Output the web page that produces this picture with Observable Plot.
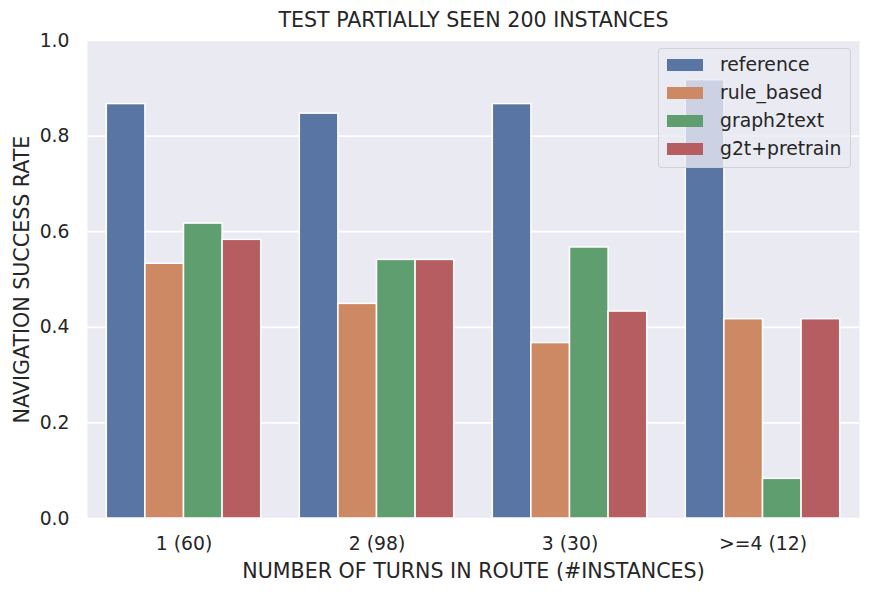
<!DOCTYPE html>
<html>
<head>
<meta charset="utf-8">
<script src="https://cdn.jsdelivr.net/npm/d3@7"></script>
<script src="https://cdn.jsdelivr.net/npm/@observablehq/plot@0.6"></script>
<style>
  html, body { margin: 0; padding: 0; background: #fff; }
  #wrap { position: relative; width: 873px; height: 594px; font-family: "DejaVu Sans", sans-serif; }
  #legend {
    position: absolute; left: 658px; top: 48px; width: 191px; height: 116px;
    background: rgba(234,234,242,0.8); border: 1px solid rgba(204,204,204,0.8);
    border-radius: 4px; box-sizing: content-box; padding-top: 2px;
  }
  .row { display: flex; align-items: center; height: 28px; }
  .sw { width: 36px; height: 12px; margin-left: 8px; margin-right: 17px; }
  .lab { font-size: 18.8px; color: #262626; line-height: 1; }
</style>
</head>
<body>
<div id="wrap"></div>
<script>
const title = "TEST PARTIALLY SEEN 200 INSTANCES";
const xLabel = "NUMBER OF TURNS IN ROUTE (#INSTANCES)";
const yLabel = "NAVIGATION SUCCESS RATE";
const groups = ["1 (60)", "2 (98)", "3 (30)", ">=4 (12)"];
const series = ["reference", "rule_based", "graph2text", "g2t+pretrain"];
const colors = ["#5875A4", "#CC8963", "#5F9E6E", "#B55D60"];
const reference = [0.867, 0.847, 0.867, 0.917];
const ruleBased = [0.533, 0.449, 0.367, 0.417];
const graph2text = [0.617, 0.541, 0.567, 0.083];
const g2tPretrain = [0.583, 0.541, 0.433, 0.417];
const yTicks = [0, 0.2, 0.4, 0.6, 0.8, 1.0];

const seriesValues = [reference, ruleBased, graph2text, g2tPretrain];
const rows = [];
groups.forEach((g, gi) => {
  series.forEach((s, si) => {
    rows.push({group: g, gi, series: s, si, value: seriesValues[si][gi]});
  });
});

const ink = "#262626";
const chart = Plot.plot({
  width: 873,
  height: 594,
  marginTop: 40,
  marginRight: 14,
  marginBottom: 76,
  marginLeft: 87,
  style: {fontFamily: "DejaVu Sans, sans-serif", background: "white", color: ink},
  x: {domain: [-0.5, groups.length - 0.5]},
  y: {domain: [0, 1]},
  color: {domain: series, range: colors},
  marks: [
    Plot.frame({fill: "#EAEAF2", stroke: null}),
    Plot.gridY({ticks: yTicks, stroke: "white", strokeOpacity: 1, strokeWidth: 1.7}),
    Plot.rect(rows, {
      x1: d => d.gi - 0.4 + 0.2 * d.si,
      x2: d => d.gi - 0.2 + 0.2 * d.si,
      y1: 0,
      y2: "value",
      fill: "series",
      stroke: "white",
      strokeWidth: 1.5
    }),
    Plot.axisX({
      ticks: groups.map((g, i) => i),
      tickFormat: i => groups[i],
      tickSize: 0,
      tickPadding: 18,
      fontSize: 18.8,
      color: ink,
      label: null
    }),
    Plot.axisY({
      ticks: yTicks,
      tickFormat: d3.format(".1f"),
      tickSize: 0,
      tickPadding: 18,
      fontSize: 18.8,
      color: ink,
      label: null
    }),
    Plot.text([title], {frameAnchor: "top", dy: -20, lineAnchor: "middle", textAnchor: "middle", fontSize: 20.6, fill: ink, text: d => d}),
    Plot.text([xLabel], {frameAnchor: "bottom", dy: 53, lineAnchor: "middle", textAnchor: "middle", fontSize: 20.6, fill: ink, text: d => d}),
    Plot.text([yLabel], {frameAnchor: "left", dx: -65.5, rotate: -90, lineAnchor: "middle", textAnchor: "middle", fontSize: 20.6, fill: ink, text: d => d})
  ]
});

const wrap = document.getElementById("wrap");
wrap.appendChild(chart);

const legend = document.createElement("div");
legend.id = "legend";
series.forEach((s, i) => {
  const row = document.createElement("div");
  row.className = "row";
  const sw = document.createElement("div");
  sw.className = "sw";
  sw.style.background = colors[i];
  const lab = document.createElement("span");
  lab.className = "lab";
  lab.textContent = s;
  row.appendChild(sw);
  row.appendChild(lab);
  legend.appendChild(row);
});
wrap.appendChild(legend);
</script>
</body>
</html>
